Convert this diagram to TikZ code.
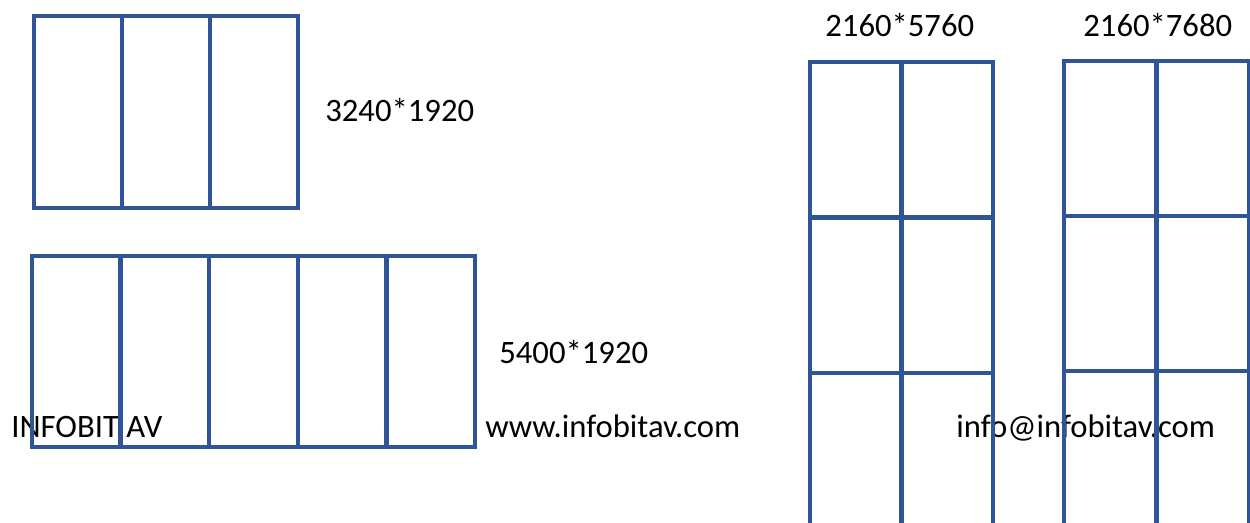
\documentclass[tikz,border=0pt]{standalone}
\usepackage{fontspec}
\setmainfont{Carlito}
\usepackage{xcolor}
\definecolor{panelblue}{RGB}{47,85,151}

\begin{document}
\begin{tikzpicture}[
x=0.02cm, y=-0.02cm,
panel/.style={draw=panelblue, line width=2.6pt, line join=miter},
label/.style={anchor=base west, inner sep=0pt, font=\fontsize{18.6}{22}\selectfont}
]
\useasboundingbox (0,0) rectangle (1250,522);
\clip (0,0) rectangle (1250,522);

% texts first, panels drawn over them
\node[label] (size3) at (325,121) {3240*1920};
\node[label] (size5) at (499,363) {5400*1920};
\node[label] (sizeA) at (825,36) {2160*5760};
\node[label] (sizeB) at (1083,36) {2160*7680};
\node[label] (brand) at (11,437) {INFOBIT AV};
\node[label] (web) at (485,437) {www.infobitav.com};
\node[label] (mail) at (956,437) {info@infobitav.com};

% 3 x 1 wall
\foreach \i in {0,1,2}
  \draw[panel] (34+88*\i,16) rectangle ++(88,192);

% 5 x 1 wall
\foreach \i in {0,...,4}
  \draw[panel] (32+88.6*\i,256) rectangle ++(88.6,191);

% 2 x 3 wall
\foreach \i in {0,1}
  \foreach \j in {0,1,2}
    \draw[panel] (810+91.5*\i,62+155.5*\j) rectangle ++(91.5,155.5);

% 2 x 4 wall
\foreach \i in {0,1}
  \foreach \j in {0,...,3}
    \draw[panel] (1064+92.5*\i,61+155*\j) rectangle ++(92.5,155);

\end{tikzpicture}
\end{document}
